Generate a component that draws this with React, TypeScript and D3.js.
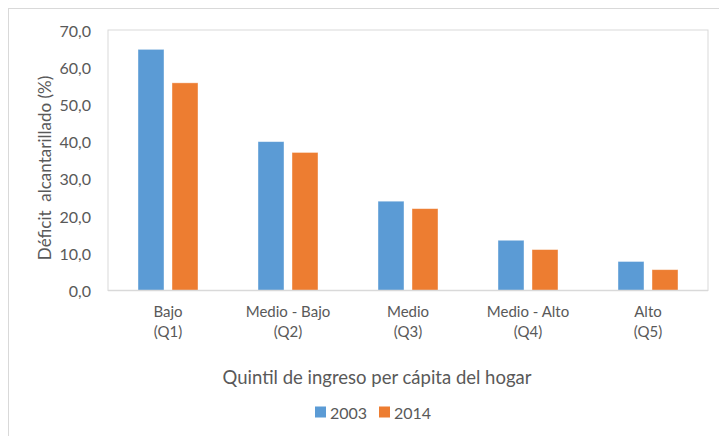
import React from "react";
import * as d3 from "d3";

const categories = ["Bajo|(Q1)", "Medio - Bajo|(Q2)", "Medio|(Q3)", "Medio - Alto|(Q4)", "Alto|(Q5)"];
const seriesNames = ["2003", "2014"];
const values2003 = [64.8, 40.0, 24.0, 13.5, 7.8];
const values2014 = [55.8, 37.1, 22.0, 11.0, 5.6];
const yTicks = [0, 10, 20, 30, 40, 50, 60, 70];
const colors = ["#5B9BD5", "#ED7D31"];

const W = 719;
const H = 436;
const plot = { left: 108, right: 708, top: 30, bottom: 290.5 };
const font = "Lato, Carlito, Calibri, sans-serif";
const textColor = "#595959";

export default function App() {
  const x0 = d3.scaleBand<string>().domain(categories).range([plot.left, plot.right]).padding(0);
  const x1 = d3.scaleBand<string>().domain(seriesNames).range([30, 90]).paddingInner(8 / 34).paddingOuter(0);
  const y = d3.scaleLinear().domain([0, 70]).range([plot.bottom, plot.top]);
  const series = [values2003, values2014];
  const fmt = (v: number) => v.toFixed(1).replace(".", ",");

  return (
    <svg width={W} height={H} style={{ position: "absolute", left: 0, top: 0, display: "block", background: "#fff" }}>
      <rect x={8.5} y={8.5} width={W + 20} height={H + 20} fill="#fff" stroke="#d9d9d9" strokeWidth={1} />
      <rect
        x={plot.left}
        y={plot.top}
        width={plot.right - plot.left}
        height={plot.bottom - plot.top}
        fill="#fff"
        stroke="#d9d9d9"
        strokeWidth={1}
      />
      {categories.map((c, i) =>
        seriesNames.map((s, j) => {
          const v = series[j][i];
          const bx = (x0(c) as number) + (x1(s) as number);
          return (
            <rect
              key={c + s}
              x={bx}
              y={y(v)}
              width={x1.bandwidth()}
              height={y(0) - y(v)}
              fill={colors[j]}
              stroke="#ffffff"
              strokeOpacity={0.5}
              strokeWidth={0.8}
            />
          );
        })
      )}
      <line x1={plot.left} x2={plot.right} y1={y(0)} y2={y(0)} stroke="#d9d9d9" strokeWidth={1.5} />
      {yTicks.map((t) => (
        <text
          key={t}
          x={91}
          y={y(t)}
          textAnchor="end"
          dominantBaseline="central"
          fontFamily={font}
          fontSize={16}
          fill={textColor}
        >
          {fmt(t)}
        </text>
      ))}
      {categories.map((c) => {
        const cx = (x0(c) as number) + x0.bandwidth() / 2;
        const lines = c.split("|");
        return (
          <text key={c} x={cx} textAnchor="middle" fontFamily={font} fontSize={15} fill={textColor}>
            {lines.map((l, k) => (
              <tspan key={k} x={cx} y={311 + k * 20} dominantBaseline="central">
                {l}
              </tspan>
            ))}
          </text>
        );
      })}
      <text
        transform={`translate(44,168) rotate(-90)`}
        textAnchor="middle"
        dominantBaseline="central"
        fontFamily={font}
        fontSize={17}
        fill={textColor}
        style={{ whiteSpace: "pre" }}
      >
        {"Déficit  alcantarillado (%)"}
      </text>
      <text
        x={377}
        y={377}
        textAnchor="middle"
        dominantBaseline="central"
        fontFamily={font}
        fontSize={18.5}
        fill={textColor}
      >
        Quintil de ingreso per cápita del hogar
      </text>
      {seriesNames.map((s, j) => {
        const lx = j === 0 ? 315 : 379;
        return (
          <g key={s}>
            <rect x={lx} y={406.5} width={11} height={11} fill={colors[j]} />
            <text x={lx + 15} y={412} dominantBaseline="central" fontFamily={font} fontSize={16} fill={textColor}>
              {s}
            </text>
          </g>
        );
      })}
    </svg>
  );
}
